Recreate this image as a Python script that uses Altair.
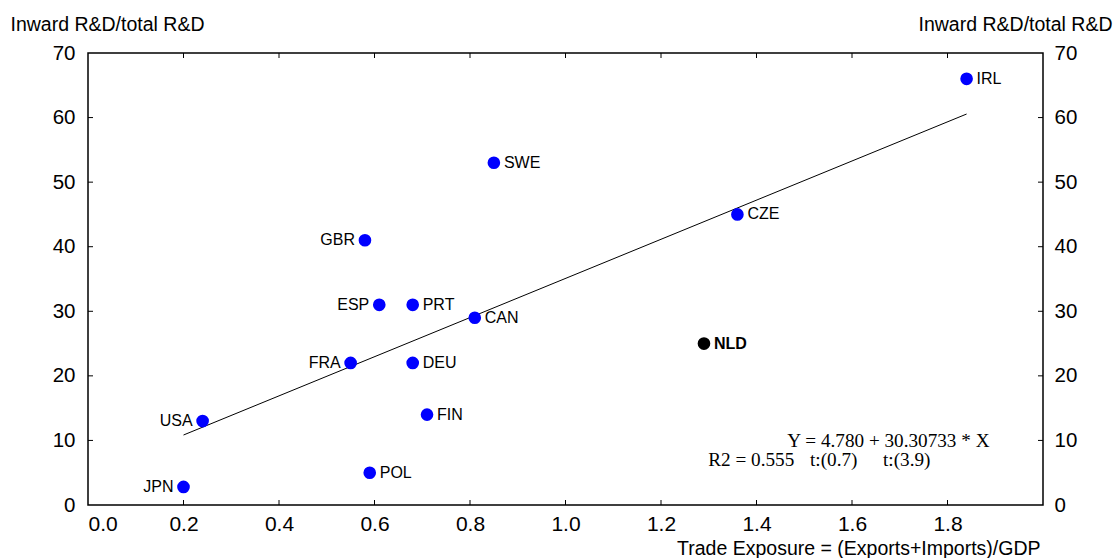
import altair as alt
import pandas as pd

# ---- data ----
countries = ["JPN", "USA", "POL", "FRA", "DEU", "FIN", "ESP", "PRT", "CAN",
             "GBR", "SWE", "CZE", "NLD", "IRL"]
trade = [0.20, 0.24, 0.59, 0.55, 0.68, 0.71, 0.61, 0.68, 0.81,
         0.58, 0.85, 1.36, 1.29, 1.84]
inward = [2.8, 13, 5, 22, 22, 14, 31, 31, 29, 41, 53, 45, 25, 66]
label_side = ["left", "left", "right", "left", "right", "right", "left", "right", "right",
              "left", "right", "right", "right", "right"]

fit_x = [0.20, 1.84]
fit_y = [10.84, 60.55]

x_ticks = [0.2, 0.4, 0.6, 0.8, 1.0, 1.2, 1.4, 1.6, 1.8]
y_ticks = [10, 20, 30, 40, 50, 60]

ann_text = ["Y = 4.780 + 30.30733 * X", "R2 = 0.555", "t:(0.7)", "t:(3.9)"]
ann_x = [1.888, 1.299, 1.512, 1.665]
ann_y = [9.0, 6.0, 6.0, 6.0]
ann_align = ["right", "left", "left", "left"]

W, H = 955, 452
FONT = "Liberation Sans"

pts = pd.DataFrame({"country": countries, "trade": trade, "inward": inward,
                    "side": label_side})
fit = pd.DataFrame({"trade": fit_x, "inward": fit_y})
xt = pd.DataFrame({"v": x_ticks})
yt = pd.DataFrame({"v": y_ticks})
ann = pd.DataFrame({"t": ann_text, "x": ann_x, "y": ann_y, "al": ann_align})

xscale = alt.Scale(domain=[0, 2.0], nice=False, zero=False)
yscale = alt.Scale(domain=[0, 70], nice=False, zero=False)

xaxis = alt.Axis(values=[0, 0.2, 0.4, 0.6, 0.8, 1.0, 1.2, 1.4, 1.6, 1.8], format=".1f",
                 ticks=False, domain=False, grid=False, labelFontSize=21,
                 labelFont=FONT, labelColor="black", labelPadding=8,
                 title="Trade Exposure = (Exports+Imports)/GDP",
                 titleFont=FONT, titleFontSize=19.5, titleFontWeight="normal",
                 titleColor="black", titleAnchor="end", titleAlign="right",
                 titleX=W - 3, titleY=43, titleBaseline="middle")
yaxis_left = alt.Axis(values=[0, 10, 20, 30, 40, 50, 60, 70], ticks=False, domain=False,
                      grid=False, labelFontSize=20.5, labelFont=FONT, labelColor="black",
                      labelPadding=13, title="Inward R&D/total R&D", titleAngle=0,
                      titleFont=FONT, titleFontSize=19.5, titleFontWeight="normal",
                      titleColor="black", titleAlign="left", titleBaseline="middle",
                      titleX=-78, titleY=-29)
yaxis_right = alt.Axis(orient="right", values=[0, 10, 20, 30, 40, 50, 60, 70], ticks=False,
                       domain=False, grid=False, labelFontSize=20.5, labelFont=FONT,
                       labelColor="black", labelPadding=11, title="Inward R&D/total R&D",
                       titleAngle=0, titleFont=FONT, titleFontSize=19.5,
                       titleFontWeight="normal", titleColor="black", titleAlign="right",
                       titleBaseline="middle", titleX=69, titleY=-29)

line = alt.Chart(fit).mark_line(color="black", strokeWidth=1).encode(
    x=alt.X("trade:Q", scale=xscale, axis=xaxis),
    y=alt.Y("inward:Q", scale=yscale, axis=yaxis_left),
)

dots = alt.Chart(pts).mark_point(filled=True, opacity=1, size=160, shape="circle").encode(
    x=alt.X("trade:Q", scale=xscale),
    y=alt.Y("inward:Q", scale=yscale),
    color=alt.condition("datum.country == 'NLD'", alt.value("black"), alt.value("#0000ff")),
)

lab_r = alt.Chart(pts).transform_filter("datum.side == 'right' && datum.country != 'NLD'").mark_text(
    align="left", baseline="middle", dx=10, font=FONT, fontSize=16, color="black"
).encode(x=alt.X("trade:Q", scale=xscale), y=alt.Y("inward:Q", scale=yscale), text="country:N")

lab_b = alt.Chart(pts).transform_filter("datum.country == 'NLD'").mark_text(
    align="left", baseline="middle", dx=10, font=FONT, fontSize=16, fontWeight="bold",
    color="black"
).encode(x=alt.X("trade:Q", scale=xscale), y=alt.Y("inward:Q", scale=yscale), text="country:N")

lab_l = alt.Chart(pts).transform_filter("datum.side == 'left'").mark_text(
    align="right", baseline="middle", dx=-10, font=FONT, fontSize=16, color="black"
).encode(x=alt.X("trade:Q", scale=xscale), y=alt.Y("inward:Q", scale=yscale), text="country:N")

annot_r = alt.Chart(ann).transform_filter("datum.al == 'right'").mark_text(
    align="right", baseline="alphabetic", font="Liberation Serif", fontSize=19.2,
    color="black").encode(x=alt.X("x:Q", scale=xscale), y=alt.Y("y:Q", scale=yscale),
                          text="t:N")
annot_l = alt.Chart(ann).transform_filter("datum.al == 'left'").mark_text(
    align="left", baseline="alphabetic", font="Liberation Serif", fontSize=19.2,
    color="black").encode(x=alt.X("x:Q", scale=xscale), y=alt.Y("y:Q", scale=yscale),
                          text="t:N")

tick_style = dict(color="black", strokeWidth=1)
tl = alt.Chart(yt).mark_rule(**tick_style).encode(
    y=alt.Y("v:Q", scale=yscale), x=alt.value(0), x2=alt.value(5))
tr = alt.Chart(yt).mark_rule(**tick_style).encode(
    y=alt.Y("v:Q", scale=yscale), x=alt.value(W - 5), x2=alt.value(W))
tb = alt.Chart(xt).mark_rule(**tick_style).encode(
    x=alt.X("v:Q", scale=xscale), y=alt.value(H - 5), y2=alt.value(H))
ttop = alt.Chart(xt).mark_rule(**tick_style).encode(
    x=alt.X("v:Q", scale=xscale), y=alt.value(0), y2=alt.value(5))

main = alt.layer(line, tl, tr, tb, ttop, dots, lab_r, lab_b, lab_l, annot_r, annot_l)

right_axis = alt.Chart(yt).mark_rule(opacity=0).encode(
    y=alt.Y("v:Q", scale=yscale, axis=yaxis_right), x=alt.value(0), x2=alt.value(0))

chart = alt.layer(main, right_axis).resolve_scale(y="independent").properties(
    width=W, height=H,
    autosize=alt.AutoSizeParams(type="none"),
    padding={"left": 88, "top": 53, "right": 77, "bottom": 53},
    background="white",
).configure_view(stroke="black", strokeWidth=1.5)

chart.save("out.html", embed_options={"renderer": "svg", "actions": False})
